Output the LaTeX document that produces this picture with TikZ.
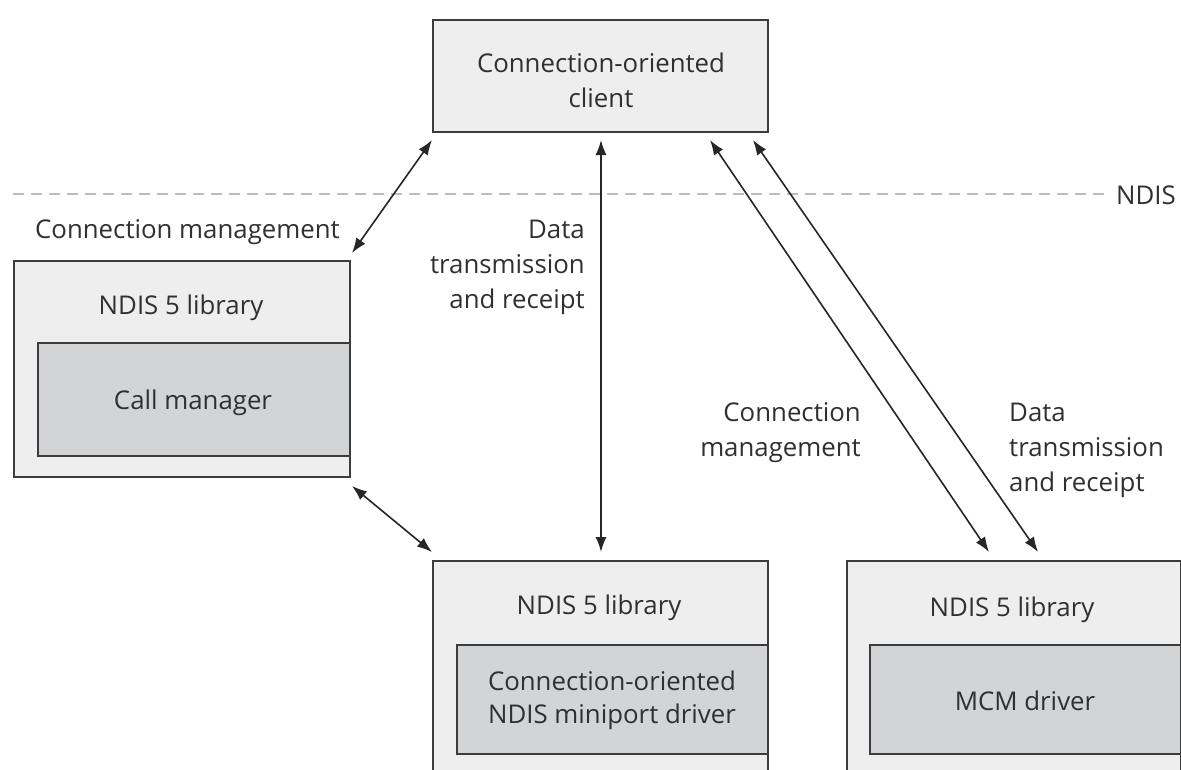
\documentclass[tikz,border=0pt]{standalone}
\usepackage{fontspec}
\setmainfont{Open Sans}
\usetikzlibrary{arrows.meta}
\definecolor{outerfill}{HTML}{EEEEEE}
\definecolor{innerfill}{HTML}{D3D4D6}
\definecolor{edgegray}{HTML}{3C3C3C}
\definecolor{txtgray}{HTML}{303030}
\definecolor{dashgray}{HTML}{BDBDBD}
\begin{document}
\begin{tikzpicture}[x=1pt,y=-1pt,
  outerbox/.style={draw=edgegray, fill=outerfill, line width=2pt, inner sep=0pt, anchor=north west},
  innerbox/.style={draw=edgegray, fill=innerfill, line width=2pt, inner sep=0pt, anchor=north west},
  lbl/.style={text=txtgray, font=\fontsize{25.8}{35}\selectfont, inner sep=0pt},
  biarrow/.style={draw=black!85, line width=1.6pt, {Latex[length=15pt,width=11pt]}-{Latex[length=15pt,width=11pt]}},
  ndisline/.style={draw=dashgray, line width=1.8pt, dash pattern=on 11pt off 7pt}
]
\useasboundingbox (0,0) rectangle (1181,769);
\clip (0,0) rectangle (1181,769);

% NDIS boundary
\coordinate (dashstart) at (13,194);
\coordinate (dashend) at (1107,194);
\draw[ndisline] (dashstart) -- (dashend);
\node[lbl, anchor=west] (ndis) at (1116,195) {NDIS};

% top client box
\node[outerbox, minimum width=335pt, minimum height=112pt] (client) at (432,19) {};
\node[lbl, align=center] (clienttxt) at (601,80) {Connection-oriented\\client};

% left box
\node[outerbox, minimum width=336pt, minimum height=216pt] (lout) at (13,260) {};
\node[innerbox, minimum width=312pt, minimum height=113pt] (lin) at (37,342) {};
\node[lbl] (ltitle) at (181,308) {NDIS 5 library};
\node[lbl] (ltxt) at (193,403) {Call manager};

% middle bottom box
\node[outerbox, minimum width=335pt, minimum height=240pt] (mout) at (432,560) {};
\node[innerbox, minimum width=311pt, minimum height=109pt] (min) at (456,644) {};
\node[lbl] (mtitle) at (599,608) {NDIS 5 library};
\node[lbl, align=center, font=\fontsize{25.8}{33}\selectfont] (mtxt) at (612,700) {Connection-oriented\\NDIS miniport driver};

% right bottom box
\node[outerbox, minimum width=334pt, minimum height=240pt] (rout) at (846,560) {};
\node[innerbox, minimum width=311pt, minimum height=109pt] (rin) at (869,644) {};
\node[lbl] (rtitle) at (1012,610) {NDIS 5 library};
\node[lbl] (rtxt) at (1025,701) {MCM driver};

% labels
\node[lbl, anchor=east] (cm1) at (340,232) {Connection management};
\node[lbl, anchor=east, align=right] (dt1) at (585,267) {Data\\transmission\\and receipt};
\node[lbl, anchor=east, align=right] (cm2) at (861,433) {Connection\\management};
\node[lbl, anchor=west, align=left] (dt2) at (1009,450) {Data\\transmission\\and receipt};

% arrow end points
\coordinate (a1s) at (352,253);
\coordinate (a1e) at (432,140);
\coordinate (a2s) at (601,140);
\coordinate (a2e) at (601,552);
\coordinate (a3s) at (352,486);
\coordinate (a3e) at (432,552);
\coordinate (a4s) at (710,140);
\coordinate (a4e) at (989,552);
\coordinate (a5s) at (753,140);
\coordinate (a5e) at (1038,552);

\draw[biarrow] (a1s) -- (a1e);
\draw[biarrow] (a2s) -- (a2e);
\draw[biarrow] (a3s) -- (a3e);
\draw[biarrow] (a4s) -- (a4e);
\draw[biarrow] (a5s) -- (a5e);
\end{tikzpicture}
\end{document}
